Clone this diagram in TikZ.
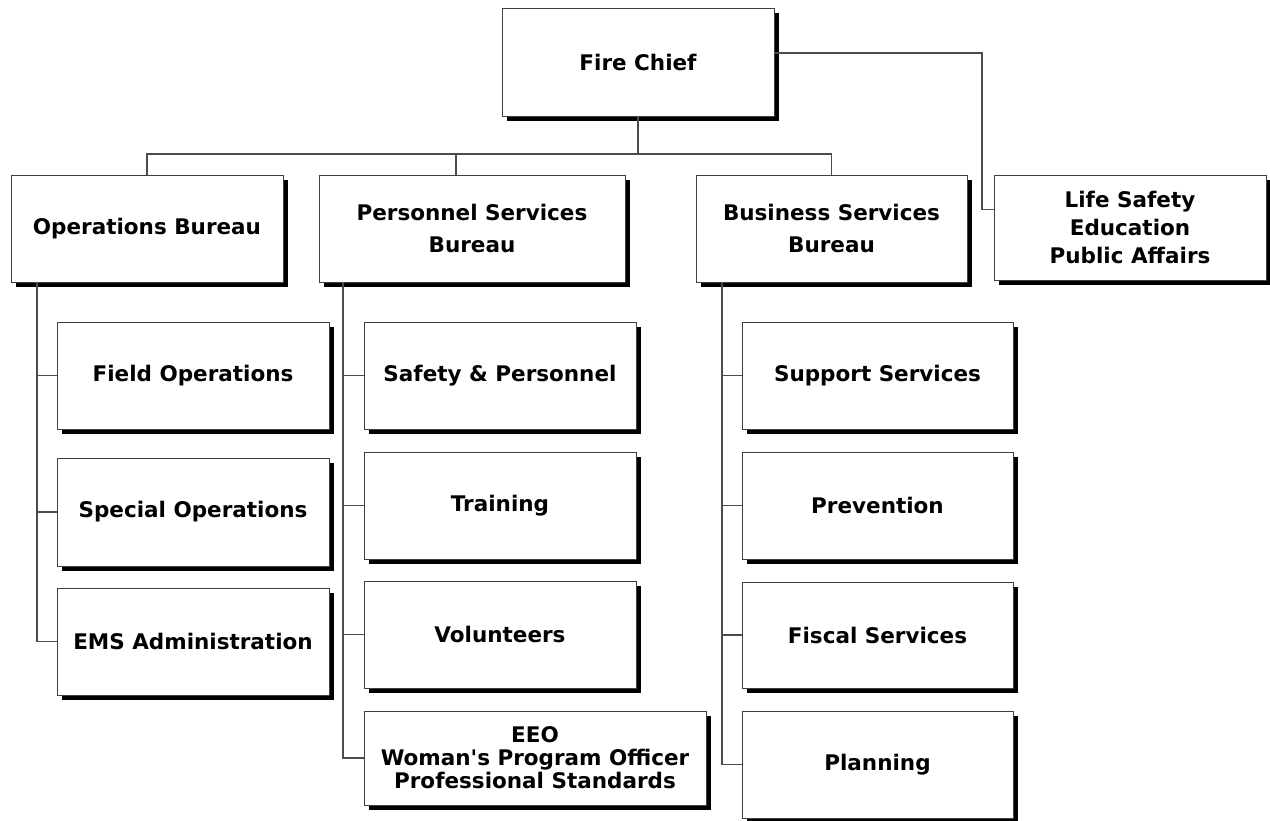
\documentclass[tikz,border=0pt]{standalone}
\usepackage{fontspec}
\setmainfont{DejaVu Sans}
\usetikzlibrary{shadows}
\tikzset{
  box/.style={draw=black!75, line width=0.9pt, fill=white, align=center,
    inner sep=0pt, font=\bfseries\fontsize{21.5}{25}\selectfont,
    drop shadow={shadow xshift=4.5pt, shadow yshift=-4.5pt, opacity=1, fill=black}},
  conn/.style={draw=black!70, line width=1.1pt}
}
\begin{document}
\begin{tikzpicture}[x=1pt,y=-1pt]
\useasboundingbox (0,0) rectangle (1270,820);
% top level
\node[box, minimum width=272, minimum height=108] (chief) at (638,62) {Fire Chief};
\node[box, minimum width=272, minimum height=107] (ops) at (147,228.5) {Operations Bureau};
\node[box, minimum width=306, minimum height=107] (pers) at (472,228.5) {Personnel Services\\[7pt]Bureau};
\node[box, minimum width=271, minimum height=107] (bus) at (831.5,228.5) {Business Services\\[7pt]Bureau};
\node[box, minimum width=272, minimum height=105] (life) at (1130,227.5) {Life Safety\\[3pt]Education\\[3pt]Public Affairs};
% operations children
\node[box, minimum width=272, minimum height=107] (field) at (193,375.5) {Field Operations};
\node[box, minimum width=272, minimum height=108] (spec) at (193,512) {Special Operations};
\node[box, minimum width=272, minimum height=107] (ems) at (193,641.5) {EMS Administration};
% personnel children
\node[box, minimum width=272, minimum height=107] (safety) at (500,375.5) {Safety \& Personnel};
\node[box, minimum width=272, minimum height=107] (train) at (500,505.5) {Training};
\node[box, minimum width=272, minimum height=107] (vol) at (500,634.5) {Volunteers};
\node[box, minimum width=342, minimum height=94] (eeo) at (535,758) {EEO\\[-2pt]Woman\textquotesingle s Program Officer\\[-2pt]Professional Standards};
% business children
\node[box, minimum width=271, minimum height=107] (supp) at (877.5,375.5) {Support Services};
\node[box, minimum width=271, minimum height=107] (prev) at (877.5,505.5) {Prevention};
\node[box, minimum width=271, minimum height=106] (fisc) at (877.5,635) {Fiscal Services};
\node[box, minimum width=271, minimum height=107] (plan) at (877.5,764.5) {Planning};
% connectors top
\coordinate (bar) at (0,154);
\draw[conn] (chief.south) -- (chief.south |- bar);
\draw[conn] (ops.north) -- (ops.north |- bar) -- (bus.north |- bar) -- (bus.north);
\draw[conn] ([xshift=-16pt]pers.north) -- ([xshift=-16pt]pers.north |- bar);
\coordinate (lsx) at (982,0);
\draw[conn] ([yshift=9pt]chief.east) -- ([yshift=9pt]chief.east -| lsx) |- ([yshift=18pt]life.west);
% operations spine
\coordinate (opsx) at (37,0);
\draw[conn] (ops.south -| opsx) |- (ems.west);
\draw[conn] (field.west -| opsx) -- (field.west);
\draw[conn] (spec.west -| opsx) -- (spec.west);
% personnel spine
\coordinate (persx) at (343,0);
\draw[conn] (pers.south -| persx) |- (eeo.west);
\draw[conn] (safety.west -| persx) -- (safety.west);
\draw[conn] (train.west -| persx) -- (train.west);
\draw[conn] (vol.west -| persx) -- (vol.west);
% business spine
\coordinate (busx) at (722,0);
\draw[conn] (bus.south -| busx) |- (plan.west);
\draw[conn] (supp.west -| busx) -- (supp.west);
\draw[conn] (prev.west -| busx) -- (prev.west);
\draw[conn] (fisc.west -| busx) -- (fisc.west);
\end{tikzpicture}
\end{document}
